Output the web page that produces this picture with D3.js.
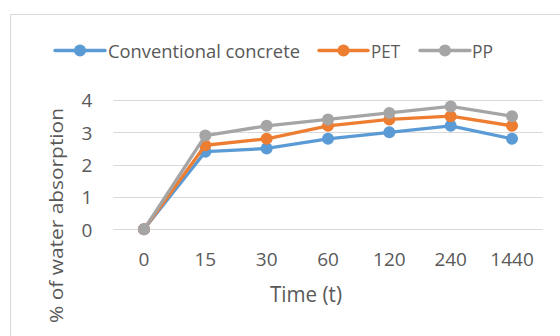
<!DOCTYPE html>
<html><head><meta charset="utf-8">
<script src="https://cdn.jsdelivr.net/npm/d3@7"></script>
<style>body{margin:0;background:#fff;} svg{display:block;} text{font-family:"Open Sans",sans-serif;fill:#595959;}</style>
</head><body>
<svg id="c" width="560" height="336"></svg>
<script>
const categories = ["0","15","30","60","120","240","1440"];
const seriesNames = ["Conventional concrete","PET","PP"];
const conventional = [0, 2.4, 2.5, 2.8, 3.0, 3.2, 2.8];
const pet = [0, 2.6, 2.8, 3.2, 3.4, 3.5, 3.2];
const pp = [0, 2.9, 3.2, 3.4, 3.6, 3.8, 3.5];
const yTicks = [0,1,2,3,4];
const colors = ["#5b9bd5","#ed7d31","#a5a5a5"];
const series = [conventional, pet, pp];

const svg = d3.select("#c");
svg.append("rect").attr("x",10.5).attr("y",14.5).attr("width",560).attr("height",330)
  .attr("fill","#fff").attr("stroke","#d9d9d9").attr("stroke-width",1);

const x = d3.scaleBand().domain(categories).range([113.3,542.7]);
const y = d3.scaleLinear().domain([0,4]).range([229.3,100]);

// gridlines
svg.append("g").selectAll("line").data(yTicks).join("line")
  .attr("x1",113.3).attr("x2",542.7)
  .attr("y1",d=>Math.round(y(d))+0.5).attr("y2",d=>Math.round(y(d))+0.5)
  .attr("stroke","#d9d9d9").attr("stroke-width",1);

// y axis labels
const yAxis = d3.axisLeft(y).tickValues(yTicks).tickFormat(d3.format("d")).tickSize(0).tickPadding(21);
const ga = svg.append("g").attr("transform","translate(113.3,0)").call(yAxis);
ga.select(".domain").remove();
ga.selectAll("text").attr("font-size",19).attr("dy","0.36em").style("font-family","'Open Sans',sans-serif").attr("fill","#595959");

const xAxis = d3.axisBottom(x).tickSize(0).tickPadding(0);
const gx = svg.append("g").attr("transform","translate(0,252.5)").call(xAxis);
gx.select(".domain").remove();
gx.selectAll("text").attr("font-size",19).style("font-family","'Open Sans',sans-serif").attr("fill","#595959");

// lines
const line = d3.line().x((d,i)=>x(categories[i])+x.bandwidth()/2).y(d=>y(d));
series.forEach((s,k)=>{
  svg.append("path").datum(s).attr("d",line).attr("fill","none")
    .attr("stroke",colors[k]).attr("stroke-width",3.3).attr("stroke-linejoin","round");
  svg.append("g").selectAll("circle").data(s).join("circle")
    .attr("cx",(d,i)=>x(categories[i])+x.bandwidth()/2).attr("cy",d=>y(d)).attr("r",6)
    .attr("fill",colors[k]);
});

// axis titles
svg.append("text").attr("x",306).attr("y",301.7).attr("text-anchor","middle")
  .attr("font-size",21).attr("textLength",72).attr("lengthAdjust","spacingAndGlyphs").text("Time (t)");
svg.append("text").attr("transform","translate(63,215.5) rotate(-90)").attr("text-anchor","middle")
  .attr("font-size",19).attr("textLength",215).attr("lengthAdjust","spacingAndGlyphs").text("% of water absorption");

// legend
const legend = [
  {lx1:55, lx2:105, tx:108, tl:192},
  {lx1:319, lx2:368, tx:371, tl:29},
  {lx1:420, lx2:470, tx:472, tl:21}
];
legend.forEach((l,k)=>{
  const g = svg.append("g");
  g.append("line").attr("x1",l.lx1).attr("x2",l.lx2).attr("y1",50.5).attr("y2",50.5)
    .attr("stroke",colors[k]).attr("stroke-width",3.3).attr("stroke-linecap","round");
  g.append("circle").attr("cx",(l.lx1+l.lx2)/2).attr("cy",50.5).attr("r",6).attr("fill",colors[k]);
  g.append("text").attr("x",l.tx).attr("y",57.7).attr("font-size",18)
    .attr("textLength",l.tl).attr("lengthAdjust","spacingAndGlyphs").text(seriesNames[k]);
});
</script>
</body></html>
